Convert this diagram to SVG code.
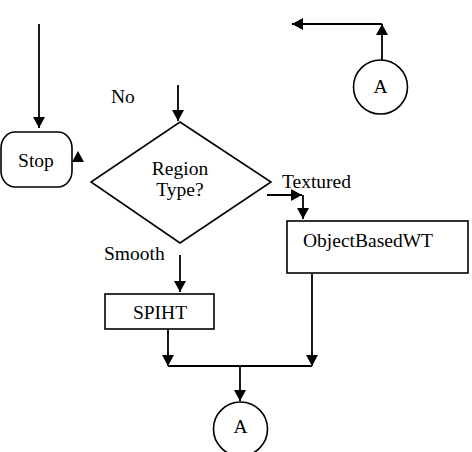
<svg xmlns="http://www.w3.org/2000/svg" width="472" height="452" viewBox="0 0 472 452">
<defs>
<marker id="ah" markerWidth="11" markerHeight="12" refX="11" refY="6" orient="auto" markerUnits="userSpaceOnUse"><path d="M0,0 L11,6 L0,12 Z" fill="#000"/></marker>
</defs>
<style>
.s{fill:none;stroke:#000;stroke-width:1.8}
.n{fill:#fff;stroke:#000;stroke-width:1.6}
.c{fill:none;stroke:#000;stroke-width:1.8;marker-end:url(#ah)}
text{font-family:"Liberation Serif","Times New Roman",serif;font-size:19.5px;fill:#000}
</style>
<rect width="472" height="452" fill="#fff"/>
<g id="connectors">
<line class="c" x1="39" y1="24" x2="39" y2="128"/>
<line class="c" x1="178" y1="85" x2="178" y2="121"/>
<polyline class="c" points="267,195 302,195"/>
<line class="c" x1="303" y1="195" x2="303" y2="219"/>
<line class="c" x1="180" y1="255" x2="180" y2="292"/>
<line class="c" x1="168" y1="329" x2="168" y2="366"/>
<line class="c" x1="312" y1="274" x2="312" y2="366"/>
<line class="s" x1="168" y1="366" x2="312" y2="366"/>
<line class="c" x1="240" y1="366" x2="240" y2="401"/>
<line class="c" x1="382" y1="60" x2="382" y2="24"/>
<line class="c" x1="382" y1="24" x2="292" y2="24"/>
<path d="M78,151 L84,162 L72,162 Z" fill="#000"/>
</g>
<g id="stop">
<rect class="n" x="1" y="132" width="71" height="55" rx="14" ry="16"/>
<text x="36" y="167" text-anchor="middle">Stop</text>
</g>
<g id="label-no"><text x="111" y="103">No</text></g>
<g id="decision">
<polygon class="n" points="180,122 271,182 180,243 91,182"/>
<text x="180" y="175" text-anchor="middle">Region</text>
<text x="180" y="196" text-anchor="middle">Type?</text>
</g>
<g id="label-textured"><text x="282" y="188">Textured</text></g>
<g id="label-smooth"><text x="104" y="260">Smooth</text></g>
<g id="objectbased">
<rect class="n" x="287" y="221" width="181" height="52"/>
<text x="303" y="247">ObjectBasedWT</text>
</g>
<g id="spiht">
<rect class="n" x="105" y="294" width="109" height="35"/>
<text x="160" y="319" text-anchor="middle">SPIHT</text>
</g>
<g id="connector-a-bottom">
<circle class="n" cx="240.5" cy="429" r="27"/>
<text x="240.5" y="433" text-anchor="middle" font-size="17">A</text>
</g>
<g id="connector-a-top">
<circle class="n" cx="380.5" cy="87" r="27"/>
<text x="380.5" y="93" text-anchor="middle" font-size="18">A</text>
</g>
</svg>
